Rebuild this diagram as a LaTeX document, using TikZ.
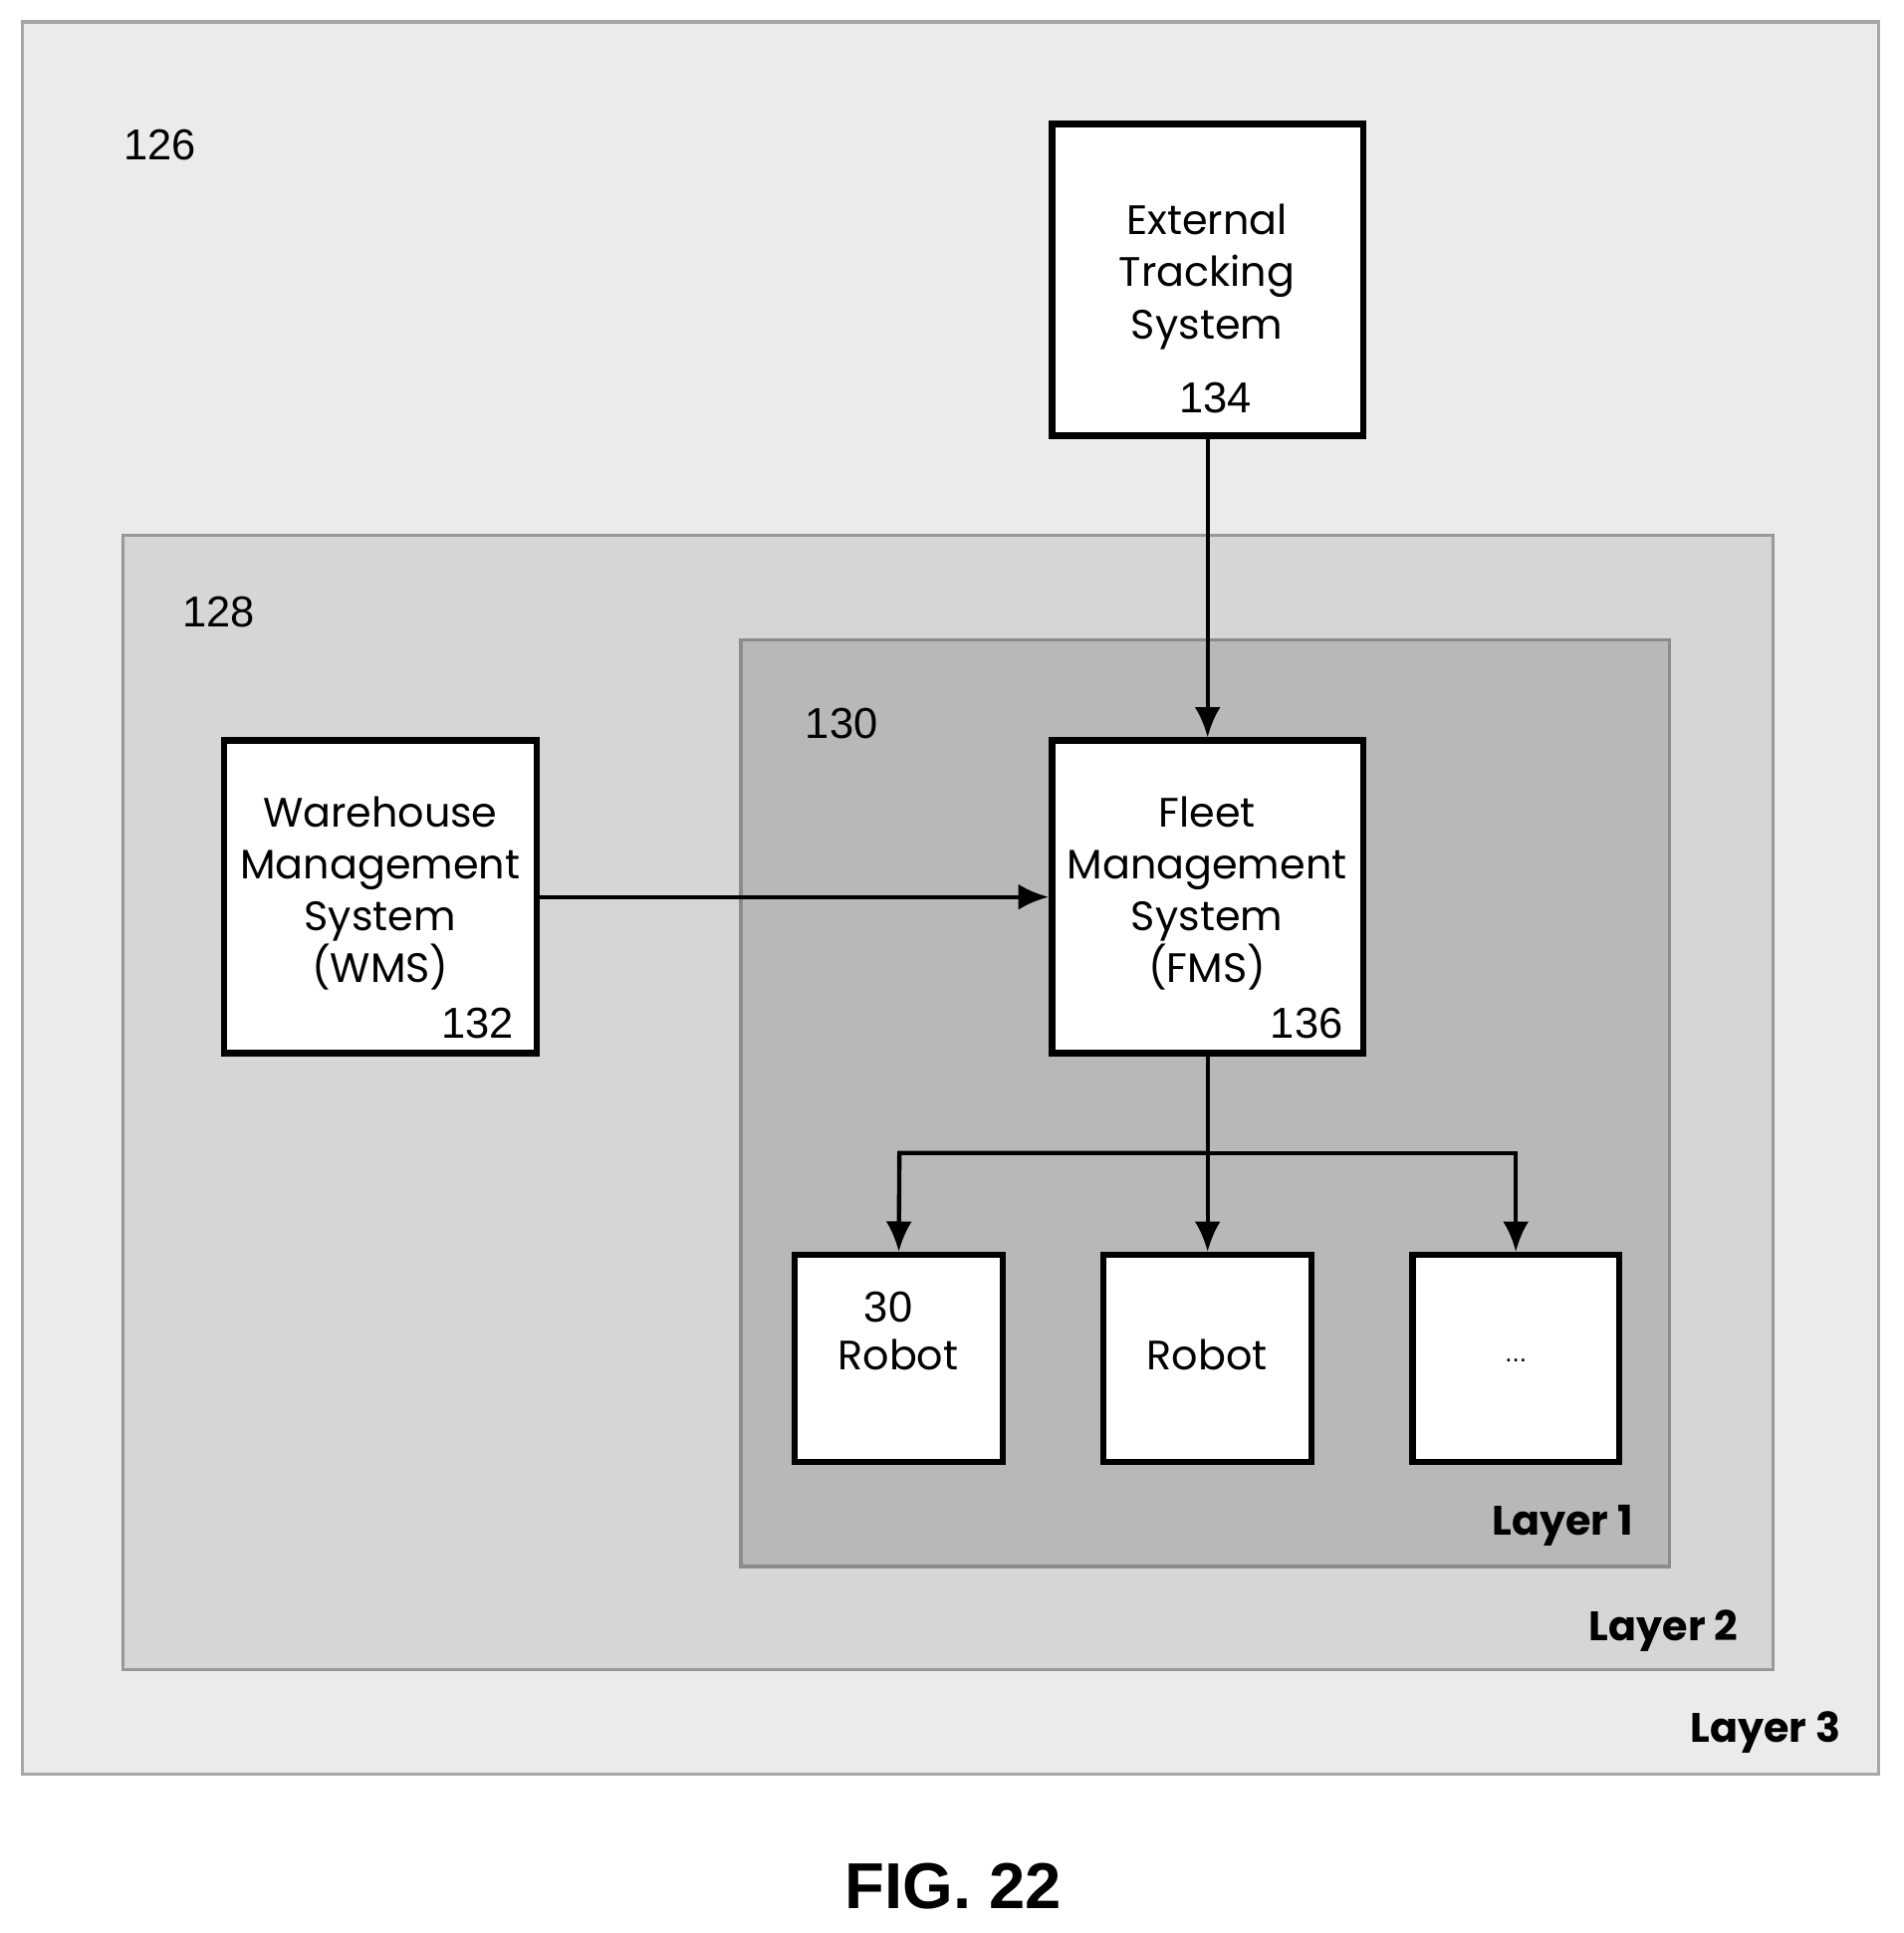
\documentclass[tikz,border=0pt]{standalone}
\usepackage{fontspec}
\setmainfont{Liberation Sans}
\newfontfamily\geo{Poppins}
\usetikzlibrary{arrows.meta}
\begin{document}
\begin{tikzpicture}[x=0.01cm,y=0.01cm,
  box/.style={draw=black,line width=1.5pt,fill=white,inner sep=0pt},
  btxt/.style={font=\geo\fontsize{9.5}{13}\selectfont,align=center},
  num/.style={font=\fontsize{10}{12}\selectfont},
  lay/.style={font=\geo\bfseries\fontsize{9.5}{11}\selectfont},
  arr/.style={line width=1pt,-{Latex[length=7pt,width=6pt]}}]
\useasboundingbox (0,0) rectangle (1547,-1571);
\fill[white] (0,0) rectangle (1547,-1571);
\filldraw[fill=black!8,draw=black!35,line width=0.8pt] (18,-18) rectangle (1527,-1442);
\filldraw[fill=black!16,draw=black!40,line width=0.8pt] (100,-435) rectangle (1441,-1357);
\filldraw[fill=black!28,draw=black!45,line width=0.8pt] (602,-520) rectangle (1357,-1273);
\node[num] (l126) at (130,-118) {126};
\node[num] (l128) at (178,-497) {128};
\node[num] (l130) at (684,-588) {130};
\node[lay] (ly1) at (1270,-1240) {Layer 1};
\node[lay] (ly2) at (1352,-1325) {Layer 2};
\node[lay] (ly3) at (1435,-1408) {Layer 3};
\node[box,minimum width=2.53cm,minimum height=2.53cm] (ext) at (981.5,-227.5) {};
\node[btxt] (extt) at (981,-225) {External\\[-1pt]Tracking\\[-1pt]System};
\node[num] (n134) at (988,-323) {134};
\node[box,minimum width=2.54cm,minimum height=2.54cm] (wms) at (309,-729) {};
\node[btxt] (wmst) at (309,-726) {Warehouse\\[-1pt]Management\\[-1pt]System\\[-1pt](WMS)};
\node[num] (n132) at (388,-832) {132};
\node[box,minimum width=2.53cm,minimum height=2.54cm] (fms) at (981.5,-729) {};
\node[btxt] (fmst) at (981,-726) {Fleet\\[-1pt]Management\\[-1pt]System\\[-1pt](FMS)};
\node[num] (n136) at (1062,-832) {136};
\node[box,minimum width=1.69cm,minimum height=1.68cm] (r1) at (730.5,-1104) {};
\node[box,minimum width=1.69cm,minimum height=1.68cm] (r2) at (981.5,-1104) {};
\node[box,minimum width=1.68cm,minimum height=1.68cm] (r3) at (1232,-1104) {};
\node[num] (n30) at (722,-1062) {30};
\node[btxt] (r1t) at (730,-1101) {Robot};
\node[btxt] (r2t) at (981,-1101) {Robot};
\node[font=\fontsize{6}{7}\selectfont] (r3t) at (1232,-1106) {...};
\draw[arr] (ext.south) -- (fms.north);
\draw[arr] (wms.east) -- (fms.west);
\coordinate (br) at (981,-937);
\coordinate (bl) at (731,-937);
\coordinate (bR) at (1232,-937);
\draw[arr] (fms.south) -- (r2.north);
\draw[arr] (br) -- (bl) -- (r1.north);
\draw[arr] (br) -- (bR) -- (r3.north);
\node[font=\bfseries\fontsize{15}{18}\selectfont] (fig) at (775,-1533) {FIG. 22};
\end{tikzpicture}
\end{document}
